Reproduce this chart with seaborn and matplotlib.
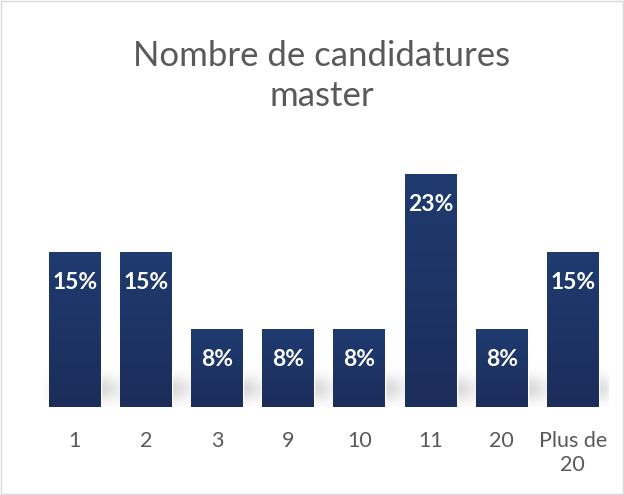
import matplotlib
matplotlib.use("Agg")
import matplotlib.pyplot as plt
import seaborn as sns
import numpy as np
import pandas as pd
from matplotlib.patches import Rectangle
from matplotlib.colors import LinearSegmentedColormap

categories = ["1", "2", "3", "9", "10", "11", "20", "Plus de\n20"]
values = [15.38, 15.38, 7.69, 7.69, 7.69, 23.08, 7.69, 15.38]
labels = ["15%", "15%", "8%", "8%", "8%", "23%", "8%", "15%"]
title = "Nombre de candidatures\nmaster"

sns.set_theme(style="white")
plt.rcParams['font.family'] = ['Lato', 'DejaVu Sans']

df = pd.DataFrame({"cat": categories, "val": values})

fig = plt.figure(figsize=(6.24, 4.95), dpi=100)
ax = fig.add_axes([0.063, 0.178, 0.912, 0.515])
sns.barplot(data=df, x="cat", y="val", color="#1f3864", width=0.73, ax=ax,
            saturation=1, zorder=3)

ax.set_xlim(-0.5, len(categories) - 0.5)
ax.set_ylim(0, 25.3)

# soft shadow behind bars
nx, ny = 800, 200
xs = np.linspace(-0.5, len(categories) - 0.5, nx)
ys = np.linspace(0, 5, ny)
X, Y = np.meshgrid(xs, ys)
mask = np.zeros_like(X)
for p in ax.patches:
    x0, w = p.get_x(), p.get_width()
    inside = (X >= x0 + 0.05) & (X <= x0 + w + 0.2) & (Y >= 1.0) & (Y <= 2.6)
    mask[inside] = 1.0
def blur1d(a, sigma, axis):
    r = int(3 * sigma)
    k = np.exp(-0.5 * (np.arange(-r, r + 1) / sigma) ** 2)
    k /= k.sum()
    return np.apply_along_axis(lambda m: np.convolve(m, k, mode="same"), axis, a)
mask = blur1d(mask, 9, 1)
mask = blur1d(mask, 28, 0)
rgba = np.zeros((ny, nx, 4))
rgba[..., :3] = 0.4
rgba[..., 3] = mask * 0.32
ax.imshow(rgba, extent=[xs[0], xs[-1], 0, 5], origin="lower", aspect="auto",
          zorder=1)

# gradient fill on bars
grad = np.linspace(0, 1, 256).reshape(-1, 1)
cmap = LinearSegmentedColormap.from_list("g", ["#1c2d5a", "#1f3b70"])
for p in ax.patches:
    x0, y0 = p.get_x(), p.get_y()
    w, h = p.get_width(), p.get_height()
    im = ax.imshow(grad, extent=[x0, x0 + w, y0, y0 + h], origin="lower",
                   cmap=cmap, aspect="auto", zorder=4)
    im.set_clip_path(p)
ax.set_xlim(-0.5, len(categories) - 0.5)
ax.set_ylim(0, 25.3)

for i, (v, lab) in enumerate(zip(values, labels)):
    ax.annotate(lab, xy=(i, v), xytext=(0, -22), textcoords="offset points",
                ha="center", va="center", color="white", fontsize=16.5,
                fontweight="bold", zorder=6)

ax.set_xlabel("")
ax.set_ylabel("")
ax.set_yticks([])
ax.tick_params(axis="x", length=0, labelsize=15.5, labelcolor="#595959", pad=17)
for t in ax.get_xticklabels():
    t.set_linespacing(1.25)
for s in ax.spines.values():
    s.set_visible(False)

fig.text(0.516, 0.847, title, ha="center", va="center", fontsize=25,
         color="#595959", linespacing=1.3)

fig.patches.append(Rectangle((0.002, 0.002), 0.996, 0.996, transform=fig.transFigure,
                             fill=False, edgecolor="#d9d9d9", linewidth=1))

fig.savefig("out.png", dpi=100)
